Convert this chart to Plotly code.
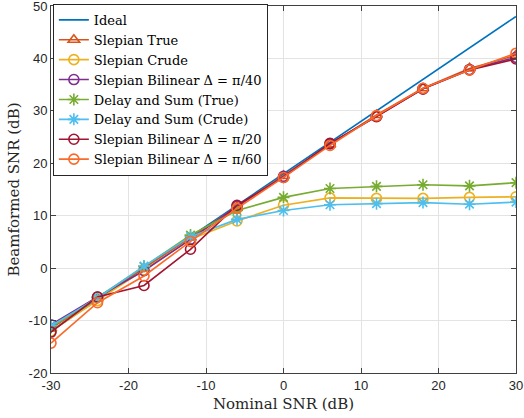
import plotly.graph_objects as go

snr = [-30, -24, -18, -12, -6, 0, 6, 12, 18, 24, 30]
ideal = [-12, -6, 0, 6, 12, 18, 24, 30, 36, 42, 48]
slepian_true = [-11.5, -5.8, 0.0, 5.8, 11.7, 17.6, 23.6, 29.2, 34.3, 38.1, 40.6]
slepian_crude = [-12.0, -6.2, -0.3, 5.5, 9.0, 12.0, 13.4, 13.3, 13.3, 13.5, 13.6]
bilinear_40 = [-10.8, -5.5, -0.5, 5.5, 11.8, 17.5, 23.7, 29.0, 34.2, 37.9, 40.2]
ds_true = [-11.3, -5.6, 0.3, 6.3, 11.0, 13.5, 15.2, 15.6, 15.9, 15.7, 16.3]
ds_crude = [-11.0, -5.7, 0.4, 6.0, 9.3, 11.0, 12.1, 12.3, 12.5, 12.2, 12.6]
bilinear_20 = [-12.2, -5.5, -3.3, 3.6, 12.0, 17.3, 23.8, 28.9, 34.2, 37.8, 39.9]
bilinear_60 = [-14.3, -6.6, -1.5, 5.1, 11.4, 17.3, 23.4, 29.1, 34.3, 37.8, 41.0]

names = ["Ideal", "Slepian True", "Slepian Crude", "Slepian Bilinear Δ = π/40",
         "Delay and Sum (True)", "Delay and Sum (Crude)",
         "Slepian Bilinear Δ = π/20", "Slepian Bilinear Δ = π/60"]

x_tick_vals = [-30, -20, -10, 0, 10, 20, 30]
x_tick_text = ["-30", "-20", "-10", "0", "10", "20", "30"]
y_tick_vals = [-20, -10, 0, 10, 20, 30, 40, 50]
y_tick_text = ["-20", "-10", "0", "10", "20", "30", "40", "50"]

series = [ideal, slepian_true, slepian_crude, bilinear_40, ds_true, ds_crude, bilinear_20, bilinear_60]
colors = ["#0072BD", "#D95319", "#EDB120", "#7E2F8E", "#77AC30", "#4DBEEE", "#A2142F", "#FA6A2A"]
symbols = [None, "triangle-up-open", "circle-open", "circle-open", "asterisk-open",
           "asterisk-open", "circle-open", "circle-open"]

fig = go.Figure()
for name, ys, col, sym in zip(names, series, colors, symbols):
    if sym is None:
        fig.add_trace(go.Scatter(x=snr, y=ys, name=name, mode="lines",
                                 line=dict(color=col, width=1.6)))
    else:
        fig.add_trace(go.Scatter(x=snr, y=ys, name=name, mode="lines+markers",
                                 line=dict(color=col, width=1.6),
                                 marker=dict(symbol=sym, size=10,
                                             line=dict(color=col, width=1.6))))

axis_common = dict(showgrid=True, gridcolor="#E3E3E3", gridwidth=1, automargin=False,
                   ticklabeloverflow="allow",
                   zeroline=False, showline=True, linecolor="#404040", linewidth=1,
                   mirror="ticks", ticks="inside", ticklen=5, tickcolor="#404040",
                   tickfont=dict(family="Liberation Sans, Arial", size=13, color="#262626"))

title_font = dict(family="DejaVu Serif, serif", size=15, color="#262626")

fig.update_xaxes(range=[-30, 30], tickvals=x_tick_vals, ticktext=x_tick_text,
                 title=dict(text="Nominal SNR (dB)", standoff=6, font=title_font),
                 **axis_common)
fig.update_yaxes(range=[-20, 50], tickvals=y_tick_vals, ticktext=y_tick_text,
                 title=dict(text="Beamformed SNR (dB)", standoff=5, font=title_font),
                 **axis_common)

fig.update_layout(
    width=524, height=418,
    margin=dict(l=51, r=8, t=5, b=45),
    plot_bgcolor="white", paper_bgcolor="white",
    legend=dict(x=0.004, y=1.003, xanchor="left", yanchor="top",
                bgcolor="white", bordercolor="#262626", borderwidth=1,
                font=dict(family="DejaVu Serif, serif", size=13, color="black"),
                tracegroupgap=0, itemwidth=30),
    showlegend=True,
)

fig.write_html("out.html", config={"displayModeBar": False},
               post_script="document.body.style.margin='0';document.body.style.overflow='hidden';")
